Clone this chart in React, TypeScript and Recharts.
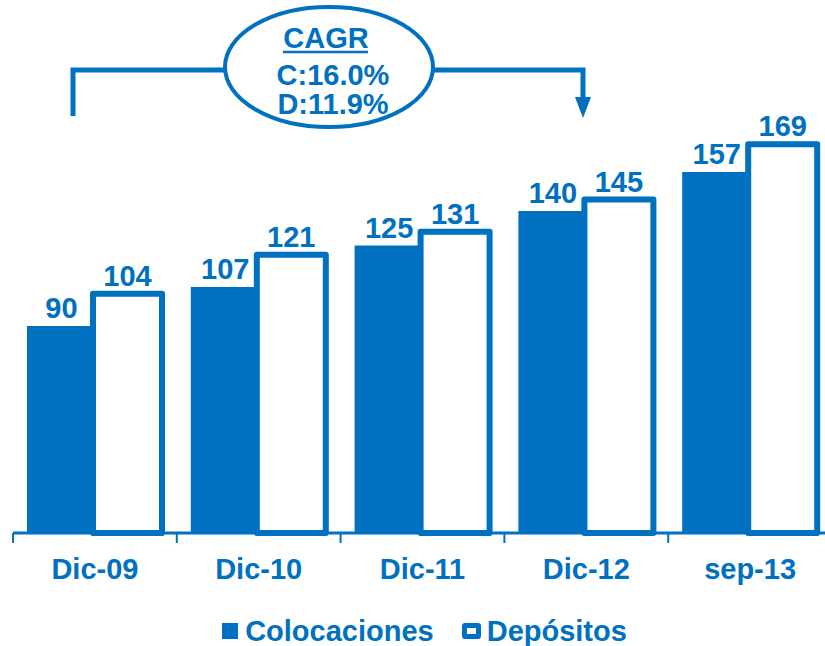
import React from "react";
import { BarChart, Bar, XAxis, YAxis, Legend, LabelList } from "recharts";

const categories = ["Dic-09", "Dic-10", "Dic-11", "Dic-12", "sep-13"];
const colocaciones = [90, 107, 125, 140, 157];
const depositos = [104, 121, 131, 145, 169];
const cagrTitle = "CAGR";
const cagrLines = ["C:16.0%", "D:11.9%"];

const BLUE = "#0070C0";
const FONT = "'Liberation Sans', Arial, sans-serif";

const data = categories.map((name, i) => ({
  name,
  colocaciones: colocaciones[i],
  depositos: depositos[i],
}));

// etiqueta del eje + marca en el borde de cada categoría
const CategoryTick = (props: any) => {
  const { x, y, payload } = props;
  const edge = x - (payload.offset || 0);
  return (
    <g>
      <line x1={edge} x2={edge} y1={y - 25} y2={y - 15} stroke={BLUE} strokeWidth={2} />
      <text
        x={x}
        y={y}
        dy={21}
        textAnchor="middle"
        fill={BLUE}
        fontSize={29}
        fontWeight="bold"
        fontFamily={FONT}
      >
        {payload.value}
      </text>
    </g>
  );
};

const LegendContent = (props: any) => {
  const { payload = [] } = props;
  return (
    <div
      style={{
        display: "flex",
        justifyContent: "center",
        alignItems: "center",
        height: 30,
        fontFamily: FONT,
        fontSize: 29,
        fontWeight: "bold",
        color: BLUE,
        paddingLeft: 4,
      }}
    >
      {payload.map((p: any, i: number) => (
        <div key={p.value} style={{ display: "flex", alignItems: "center", marginLeft: i ? 28 : 0 }}>
          {i === 0 ? (
            <span style={{ width: 16, height: 16, background: BLUE, marginRight: 7 }} />
          ) : (
            <span
              style={{
                width: 9,
                height: 6,
                border: `5px solid ${BLUE}`,
                borderRadius: 3,
                background: "#fff",
                marginRight: 6,
              }}
            />
          )}
          <span>{p.value}</span>
        </div>
      ))}
    </div>
  );
};

const labelStyle = {
  fill: BLUE,
  fontSize: 29,
  fontWeight: "bold",
  fontFamily: FONT,
};

export default function App() {
  return (
    <div
      style={{
        position: "absolute",
        left: 0,
        top: 0,
        width: 825,
        height: 646,
        background: "#fff",
        fontFamily: FONT,
      }}
    >
      <BarChart
        width={825}
        height={646}
        data={data}
        margin={{ top: 73, right: -7, left: 13, bottom: 0 }}
        barSize={69}
        barGap={-3}
      >
        <XAxis
          dataKey="name"
          height={83}
          axisLine={{ stroke: BLUE, strokeWidth: 3 }}
          tickLine={false}
          tickSize={10}
          tickMargin={15}
          tick={<CategoryTick />}
          interval={0}
        />
        <YAxis hide domain={[0, 200]} />
        <Legend verticalAlign="bottom" height={30} content={<LegendContent />} />
        <Bar dataKey="colocaciones" name="Colocaciones" fill={BLUE} isAnimationActive={false}>
          <LabelList dataKey="colocaciones" position="top" offset={8} style={labelStyle} />
        </Bar>
        <Bar
          dataKey="depositos"
          name="Depósitos"
          fill="#fff"
          stroke={BLUE}
          strokeWidth={6}
          strokeLinejoin="round"
          isAnimationActive={false}
        >
          <LabelList dataKey="depositos" position="top" offset={8} style={labelStyle} />
        </Bar>
      </BarChart>

      {/* anotación CAGR */}
      <svg
        width={825}
        height={646}
        style={{ position: "absolute", left: 0, top: 0, pointerEvents: "none" }}
      >
        <path d="M73,116 V70 H226" fill="none" stroke={BLUE} strokeWidth={5} />
        <path d="M432,70 H583 V99" fill="none" stroke={BLUE} strokeWidth={5} />
        <polygon points="575,97 591,97 583,118" fill={BLUE} />
        <ellipse cx={329} cy={67} rx={104} ry={60} fill="#fff" stroke={BLUE} strokeWidth={4} />
        <g fill={BLUE} fontFamily={FONT} fontWeight="bold" fontSize={29} textAnchor="middle">
          <text x={326} y={48}>{cagrTitle}</text>
          <line x1={283} x2={368} y1={52} y2={52} stroke={BLUE} strokeWidth={2.5} />
          <text x={333} y={85}>{cagrLines[0]}</text>
          <text x={333} y={114}>{cagrLines[1]}</text>
        </g>
      </svg>
    </div>
  );
}
